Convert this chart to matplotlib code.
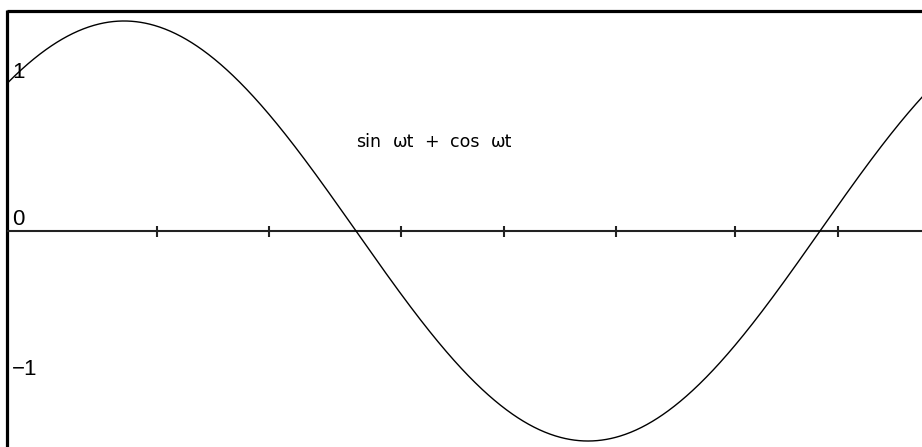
import numpy as np
import matplotlib
matplotlib.use("Agg")
import matplotlib.pyplot as plt

# Curve definition: y = sin(wt) + cos(wt)
omega = 1.0
curve_words = ["sin", "\u03c9t", "+", "cos", "\u03c9t"]

# Level labels on the left edge
level_values = [1, 0, -1]
level_texts = ["1", "0", "\u22121"]

# Tick marks along the time axis (in multiples of pi)
tick_fracs_pi = [0.321, 0.5625, 0.847, 1.069, 1.310, 1.567, 1.789]

W, H, DPI = 922, 447, 100
fig = plt.figure(figsize=(W / DPI, H / DPI), dpi=DPI)
ax = fig.add_axes([0, 0, 1, 1])
ax.set_axis_off()

# Screen calibration: origin of the plot and scale in pixels
x0_px, px_per_rad = 8.0, 464.0 / np.pi
y0_px, px_per_unit = 231.0, 148.5
xmin = -x0_px / px_per_rad
xmax = (W - x0_px) / px_per_rad
ymin = -(H - y0_px) / px_per_unit
ymax = y0_px / px_per_unit
ax.set_xlim(xmin, xmax)
ax.set_ylim(ymin, ymax)

def px_to_t(px):
    return (px - x0_px) / px_per_rad

def py_to_v(py):
    return (y0_px - py) / px_per_unit

# Frame (top and left edges)
top_v = py_to_v(11)
left_t = px_to_t(7)
ax.plot([left_t, xmax], [top_v, top_v], color="black", lw=2.3,
        solid_capstyle="butt", clip_on=False)
ax.plot([left_t, left_t], [top_v + 0.008, ymin], color="black", lw=2.3,
        solid_capstyle="butt", clip_on=False)

# Horizontal axis at zero
ax.plot([left_t, xmax], [0, 0], color="#222222", lw=1.5, solid_capstyle="butt")

# Tick marks
tick_half = 5.5 / px_per_unit
for f in tick_fracs_pi:
    t = f * np.pi
    ax.plot([t, t], [-tick_half, tick_half], color="#222222", lw=1.5,
            solid_capstyle="butt")

# The curve
t = np.linspace(0, xmax, 1200)
y = np.sin(omega * t) + np.cos(omega * t)
ax.plot(t, y, color="black", lw=1.0)

# Level labels
label_offsets_px = [4, 6, 4.5]
for v, s, off in zip(level_values, level_texts, label_offsets_px):
    ax.text(px_to_t(12), v + off / px_per_unit, s, fontsize=16,
            family="Liberation Sans", ha="left", va="baseline", color="black")

# Curve annotation, word by word with wide spacing
word_centers_px = [369, 404, 431, 465, 502]
for w, cx in zip(curve_words, word_centers_px):
    ax.text(px_to_t(cx), py_to_v(147), w, fontsize=12.5,
            family="DejaVu Sans", ha="center", va="baseline", color="black")

fig.savefig("out.png", dpi=DPI, facecolor="white")
